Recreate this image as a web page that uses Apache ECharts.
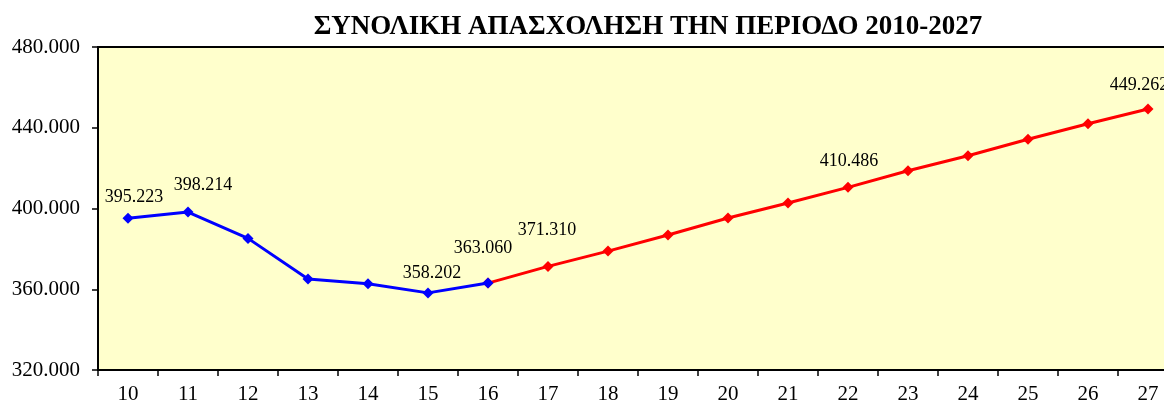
<!DOCTYPE html>
<html>
<head>
<meta charset="utf-8">
<script src="https://cdn.jsdelivr.net/npm/echarts@6/dist/echarts.min.js"></script>
<style>
  html, body { margin: 0; padding: 0; background: #fff; }
  #chart { width: 1164px; height: 401px; }
</style>
</head>
<body>
<div id="chart"></div>
<script>
const years = ['10', '11', '12', '13', '14', '15', '16', '17', '18', '19', '20', '21', '22', '23', '24', '25', '26', '27']
// actual (blue) 2010-2016, projection (red) 2016-2027
const actual = [395223, 398214, 385200, 365100, 362700, 358202, 363060]
const projected = [363060, 371310, 378900, 386900, 395300, 402700, 410486, 418700, 426100, 434300, 442000, 449262]
const yTicks = [320000, 360000, 400000, 440000, 480000]

// which points carry a value label, with their manual nudge
const labelOffsets = {
  0: [6, -21],
  1: [15, -27],
  5: [4, -20],
  6: [-5, -35],
  7: [-1, -36],
  12: [1, -26],
  17: [-9, -24]
}

const fmt = v => {
  const s = Math.round(v).toString()
  return s.replace(/\B(?=(\d{3})+(?!\d))/g, '.')
}

const buildData = (values, start) => {
  const out = years.map(() => null)
  values.forEach((v, i) => {
    const idx = start + i
    const item = { value: v }
    // label for 16 belongs to the blue line only
    if (labelOffsets[idx] && !(idx === 6 && start !== 0)) {
      item.label = {
        show: true,
        position: 'inside',
        offset: labelOffsets[idx],
        formatter: p => fmt(p.value),
        color: '#000',
        fontFamily: 'Liberation Serif',
        fontSize: 18
      }
    }
    out[idx] = item
  })
  return out
}

const chart = echarts.init(document.getElementById('chart'))

chart.setOption({
  animation: false,
  title: {
    text: 'ΣΥΝΟΛΙΚΗ ΑΠΑΣΧΟΛΗΣΗ ΤΗΝ ΠΕΡΙΟΔΟ 2010-2027',
    left: 643,
    top: 9,
    textAlign: 'center',
    textStyle: {
      fontFamily: 'Liberation Serif',
      fontWeight: 'bold',
      fontSize: 27,
      color: '#000'
    }
  },
  grid: {
    left: 98,
    top: 47,
    width: 1080,
    height: 323,
    outerBoundsMode: 'none',
    show: true,
    backgroundColor: '#FFFFCC',
    borderColor: '#000',
    borderWidth: 2
  },
  xAxis: {
    type: 'category',
    data: years,
    boundaryGap: true,
    axisLine: { lineStyle: { color: '#000', width: 2 } },
    axisTick: { show: true, length: 6, lineStyle: { color: '#000', width: 1.5 } },
    axisLabel: {
      color: '#000',
      fontFamily: 'Liberation Serif',
      fontSize: 21,
      margin: 14
    }
  },
  yAxis: {
    type: 'value',
    min: yTicks[0],
    max: yTicks[yTicks.length - 1],
    interval: 40000,
    axisLine: { show: true, lineStyle: { color: '#000', width: 2 } },
    axisTick: { show: true, length: 6, lineStyle: { color: '#000', width: 1.5 } },
    splitLine: { show: false },
    axisLabel: {
      color: '#000',
      fontFamily: 'Liberation Serif',
      fontSize: 21,
      margin: 18,
      formatter: v => fmt(v)
    }
  },
  series: [
    {
      type: 'line',
      data: buildData(actual, 0),
      symbol: 'diamond',
      symbolSize: 11,
      lineStyle: { color: '#0000FF', width: 3 },
      itemStyle: { color: '#0000FF' },
      z: 3
    },
    {
      type: 'line',
      data: buildData(projected, 6),
      symbol: 'diamond',
      symbolSize: 11,
      lineStyle: { color: '#FF0000', width: 3 },
      itemStyle: { color: '#FF0000' },
      z: 2
    }
  ]
})
</script>
</body>
</html>
